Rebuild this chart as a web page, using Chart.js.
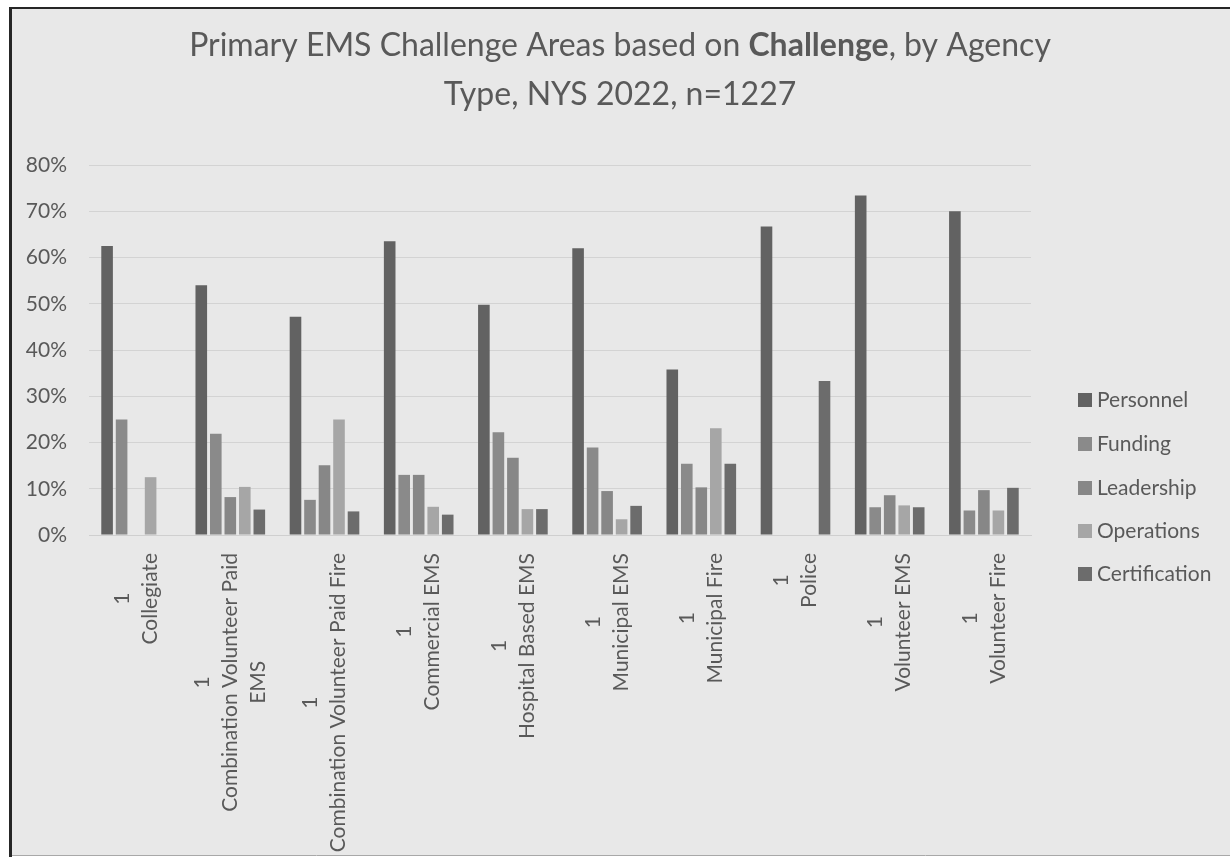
<!DOCTYPE html>
<html>
<head>
<meta charset="utf-8">
<script src="https://cdn.jsdelivr.net/npm/chart.js@4"></script>
<style>
  html, body { margin: 0; padding: 0; background: #ffffff; }
  #wrap { width: 1230px; height: 857px; }
</style>
</head>
<body>
<div id="wrap"><canvas id="challengeChart" width="1230" height="857"></canvas></div>
<script>
const categoryLabels = [
    ["1", "Collegiate"],
    ["1", "Combination Volunteer Paid", "EMS"],
    ["1", "Combination Volunteer Paid Fire"],
    ["1", "Commercial EMS"],
    ["1", "Hospital Based EMS"],
    ["1", "Municipal EMS"],
    ["1", "Municipal Fire"],
    ["1", "Police"],
    ["1", "Volunteer EMS"],
    ["1", "Volunteer Fire"]
];

const personnel     = [62.5, 54.0, 47.2, 63.5, 49.8, 62.0, 35.8, 66.7, 73.4, 70.0];
const funding       = [25.0, 21.9,  7.6, 13.0, 22.2, 18.9, 15.4,  0.0,  6.0,  5.3];
const leadership    = [ 0.0,  8.2, 15.1, 13.0, 16.7,  9.5, 10.3,  0.0,  8.6,  9.7];
const operations    = [12.5, 10.4, 25.0,  6.1,  5.6,  3.4, 23.1,  0.0,  6.4,  5.3];
const certification = [ 0.0,  5.5,  5.1,  4.4,  5.6,  6.3, 15.4, 33.3,  6.0, 10.2];

const yTicks = [0, 10, 20, 30, 40, 50, 60, 70, 80];

const titleLine1 = ["Primary EMS Challenge Areas based on ", "Challenge", ", by Agency"];
const titleLine2 = "Type, NYS 2022, n=1227";

const FONT = "Lato, 'Open Sans', sans-serif";
const TEXT = "#595959";

// frame, background and title
const framePlugin = {
    id: "frame",
    beforeDraw(chart) {
        const c = chart.ctx;
        c.save();
        c.fillStyle = "#ffffff";
        c.fillRect(0, 0, chart.width, chart.height);
        c.fillStyle = "#e8e8e8";
        c.fillRect(11, 9, chart.width - 11, 846);
        c.strokeStyle = "#262626";
        c.lineWidth = 3;
        c.beginPath();
        c.moveTo(10.5, 7);
        c.lineTo(10.5, 857);
        c.stroke();
        c.lineWidth = 2;
        c.beginPath();
        c.moveTo(9, 8);
        c.lineTo(1230, 8);
        c.stroke();
        c.strokeStyle = "#a8a8a8";
        c.lineWidth = 1;
        c.beginPath();
        c.moveTo(12, 855.5);
        c.lineTo(1230, 855.5);
        c.stroke();
        c.restore();
    },
    afterDraw(chart) {
        const c = chart.ctx;
        c.save();
        c.fillStyle = TEXT;
        c.textBaseline = "middle";
        const normal = "32px " + FONT;
        const bold = "bold 32px " + FONT;
        const fonts = [normal, bold, normal];
        let total = 0;
        titleLine1.forEach((s, i) => { c.font = fonts[i]; total += c.measureText(s).width; });
        let x = 620 - total / 2;
        c.textAlign = "left";
        titleLine1.forEach((s, i) => {
            c.font = fonts[i];
            c.fillText(s, x, 46);
            x += c.measureText(s).width;
        });
        c.font = normal;
        c.textAlign = "center";
        c.fillText(titleLine2, 620, 95);

        // category labels, rotated, lines centred on each other
        const xs = chart.scales.x;
        c.font = "21px " + FONT;
        categoryLabels.forEach((lines, i) => {
            const px = xs.getPixelForValue(i);
            let w = 0;
            lines.forEach(l => { w = Math.max(w, c.measureText(l).width); });
            c.save();
            c.translate(px, 553 + w / 2);
            c.rotate(-Math.PI / 2);
            c.textAlign = "center";
            lines.forEach((l, j) => {
                c.fillText(l, 0, (j - (lines.length - 1) / 2) * 28);
            });
            c.restore();
        });

        // legend
        c.font = "21px " + FONT;
        c.textAlign = "left";
        const legendY = [400, 444, 488, 531, 574];
        chart.data.datasets.forEach((ds, i) => {
            c.fillStyle = ds.backgroundColor;
            c.fillRect(1078, legendY[i] - 7, 14, 14);
            c.fillStyle = TEXT;
            c.fillText(ds.label, 1097, legendY[i]);
        });
        c.restore();
    }
};

const ctx = document.getElementById("challengeChart").getContext("2d");

const challengeChart = new Chart(ctx, {
    type: "bar",
    data: {
        labels: categoryLabels,
        datasets: [
            { label: "Personnel", data: personnel, backgroundColor: "#626262" },
            { label: "Funding", data: funding, backgroundColor: "#8a8a8a" },
            { label: "Leadership", data: leadership, backgroundColor: "#878787" },
            { label: "Operations", data: operations, backgroundColor: "#a6a6a6" },
            { label: "Certification", data: certification, backgroundColor: "#6c6c6c" }
        ]
    },
    options: {
        animation: false,
        responsive: false,
        layout: { padding: { top: 165, right: 199, left: 0, bottom: 0 } },
        datasets: { bar: { categoryPercentage: 0.77, barPercentage: 0.8 } },
        plugins: {
            legend: { display: false },
            title: { display: false },
            tooltip: { enabled: false }
        },
        scales: {
            x: {
                grid: { display: false },
                border: { display: true, color: "#cfcfcf" },
                ticks: { display: false },
                afterFit(scale) { scale.height = 322; }
            },
            y: {
                min: 0,
                max: 80,
                afterBuildTicks(scale) { scale.ticks = yTicks.map(v => ({ value: v })); },
                afterFit(scale) { scale.width = 89; },
                grid: { color: "#d3d3d3", drawTicks: false },
                border: { display: false },
                ticks: {
                    padding: 22,
                    color: TEXT,
                    font: { family: FONT, size: 21 },
                    callback: v => v + "%"
                }
            }
        }
    },
    plugins: [framePlugin]
});
</script>
</body>
</html>
